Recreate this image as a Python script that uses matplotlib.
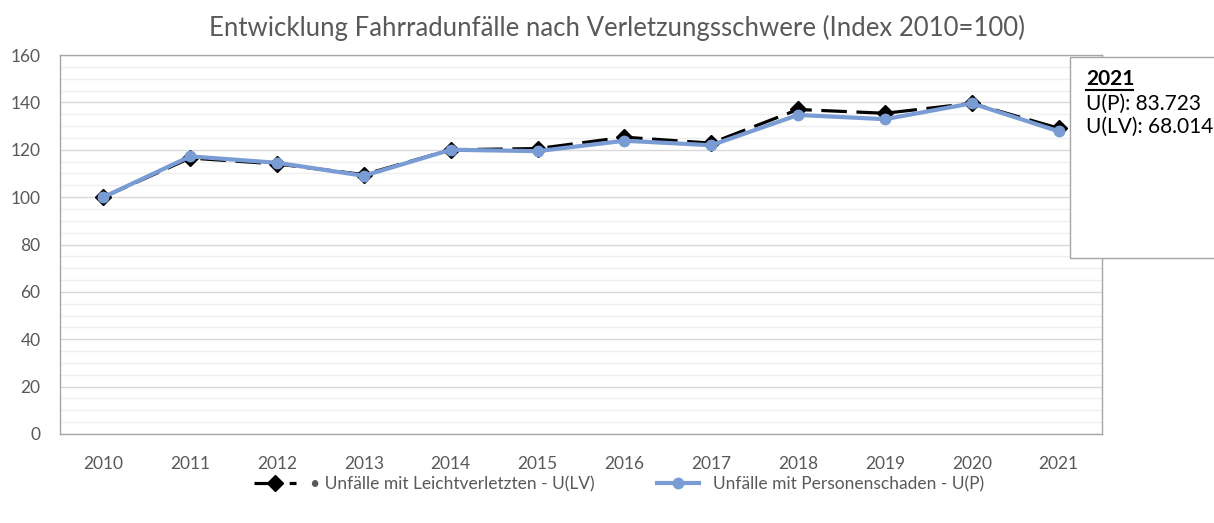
import matplotlib.pyplot as plt
import matplotlib.ticker as mticker
from matplotlib.patches import Rectangle
from matplotlib.lines import Line2D

plt.rcParams['font.family'] = ['Lato', 'DejaVu Sans']

jahre = ['2010', '2011', '2012', '2013', '2014', '2015', '2016', '2017', '2018', '2019', '2020', '2021']
u_lv = [100, 116.5, 114, 109.5, 120, 120.5, 125.3, 122.8, 137, 135.4, 139.6, 129.1]
u_p = [100, 117.2, 114.5, 109, 120, 119.4, 123.8, 121.9, 134.7, 132.9, 139.6, 127.8]

titel = 'Entwicklung Fahrradunfälle nach Verletzungsschwere (Index 2010=100)'
label_lv = '• Unfälle mit Leichtverletzten - U(LV)'
label_p = 'Unfälle mit Personenschaden - U(P)'
info_jahr = '2021'
info_zeilen = ['U(P): 83.723', 'U(LV): 68.014']

grau = '#595959'
W, H = 1214, 523

fig = plt.figure(figsize=(12.14, 5.23), dpi=100)
ax = fig.add_axes([60 / W, 1 - 434 / H, (1102 - 60) / W, (434 - 55) / H])

x = list(range(len(jahre)))
ax.plot(x, u_lv, color='black', lw=2.3, dashes=(8, 3), marker='D', markersize=8,
        label=label_lv, zorder=3)
ax.plot(x, u_p, color='#7a9cd4', lw=3, marker='o', markersize=7.5,
        label=label_p, zorder=4)

ax.set_xlim(-0.5, len(jahre) - 0.5)
ax.set_ylim(0, 160)
ax.set_xticks(x)
ax.set_xticklabels(jahre)
ax.yaxis.set_major_locator(mticker.MultipleLocator(20))
ax.yaxis.set_minor_locator(mticker.MultipleLocator(5))
ax.grid(axis='y', which='major', color='#d9d9d9', lw=1)
ax.grid(axis='y', which='minor', color='#efefef', lw=1)
ax.set_axisbelow(True)
ax.tick_params(axis='both', which='both', length=0, labelsize=12.5, colors=grau)
ax.tick_params(axis='x', pad=16)
ax.tick_params(axis='y', pad=14)
for s in ax.spines.values():
    s.set_color('#a6a6a6')
    s.set_linewidth(1)

fig.text(617 / W, 1 - 28 / H, titel, ha='center', va='center',
         fontsize=18.5, color=grau)

ax.legend(loc='center', bbox_to_anchor=((619 - 60) / (1102 - 60), -0.132), ncol=2,
          frameon=False, fontsize=12.5, handlelength=2.4, handletextpad=0.8,
          columnspacing=3.6, labelcolor=grau)

# Infokasten rechts oben
box = Rectangle((1070 / W, 1 - 258 / H), 0.2, (258 - 57) / H, transform=fig.transFigure,
                facecolor='white', edgecolor='#a6a6a6', lw=1, zorder=10)
fig.patches.append(box)
fig.text(1086 / W, 1 - 79 / H, info_jahr, fontsize=15, fontweight='bold',
         va='center', zorder=11)
fig.add_artist(Line2D([1086 / W, 1133 / W], [1 - 90 / H, 1 - 90 / H], color='black',
                      lw=1.5, transform=fig.transFigure, zorder=11))
for i, z in enumerate(info_zeilen):
    fig.text(1086 / W, 1 - (104 + 23 * i) / H, z, fontsize=15, va='center', zorder=11)

fig.savefig('out.png', dpi=100)
